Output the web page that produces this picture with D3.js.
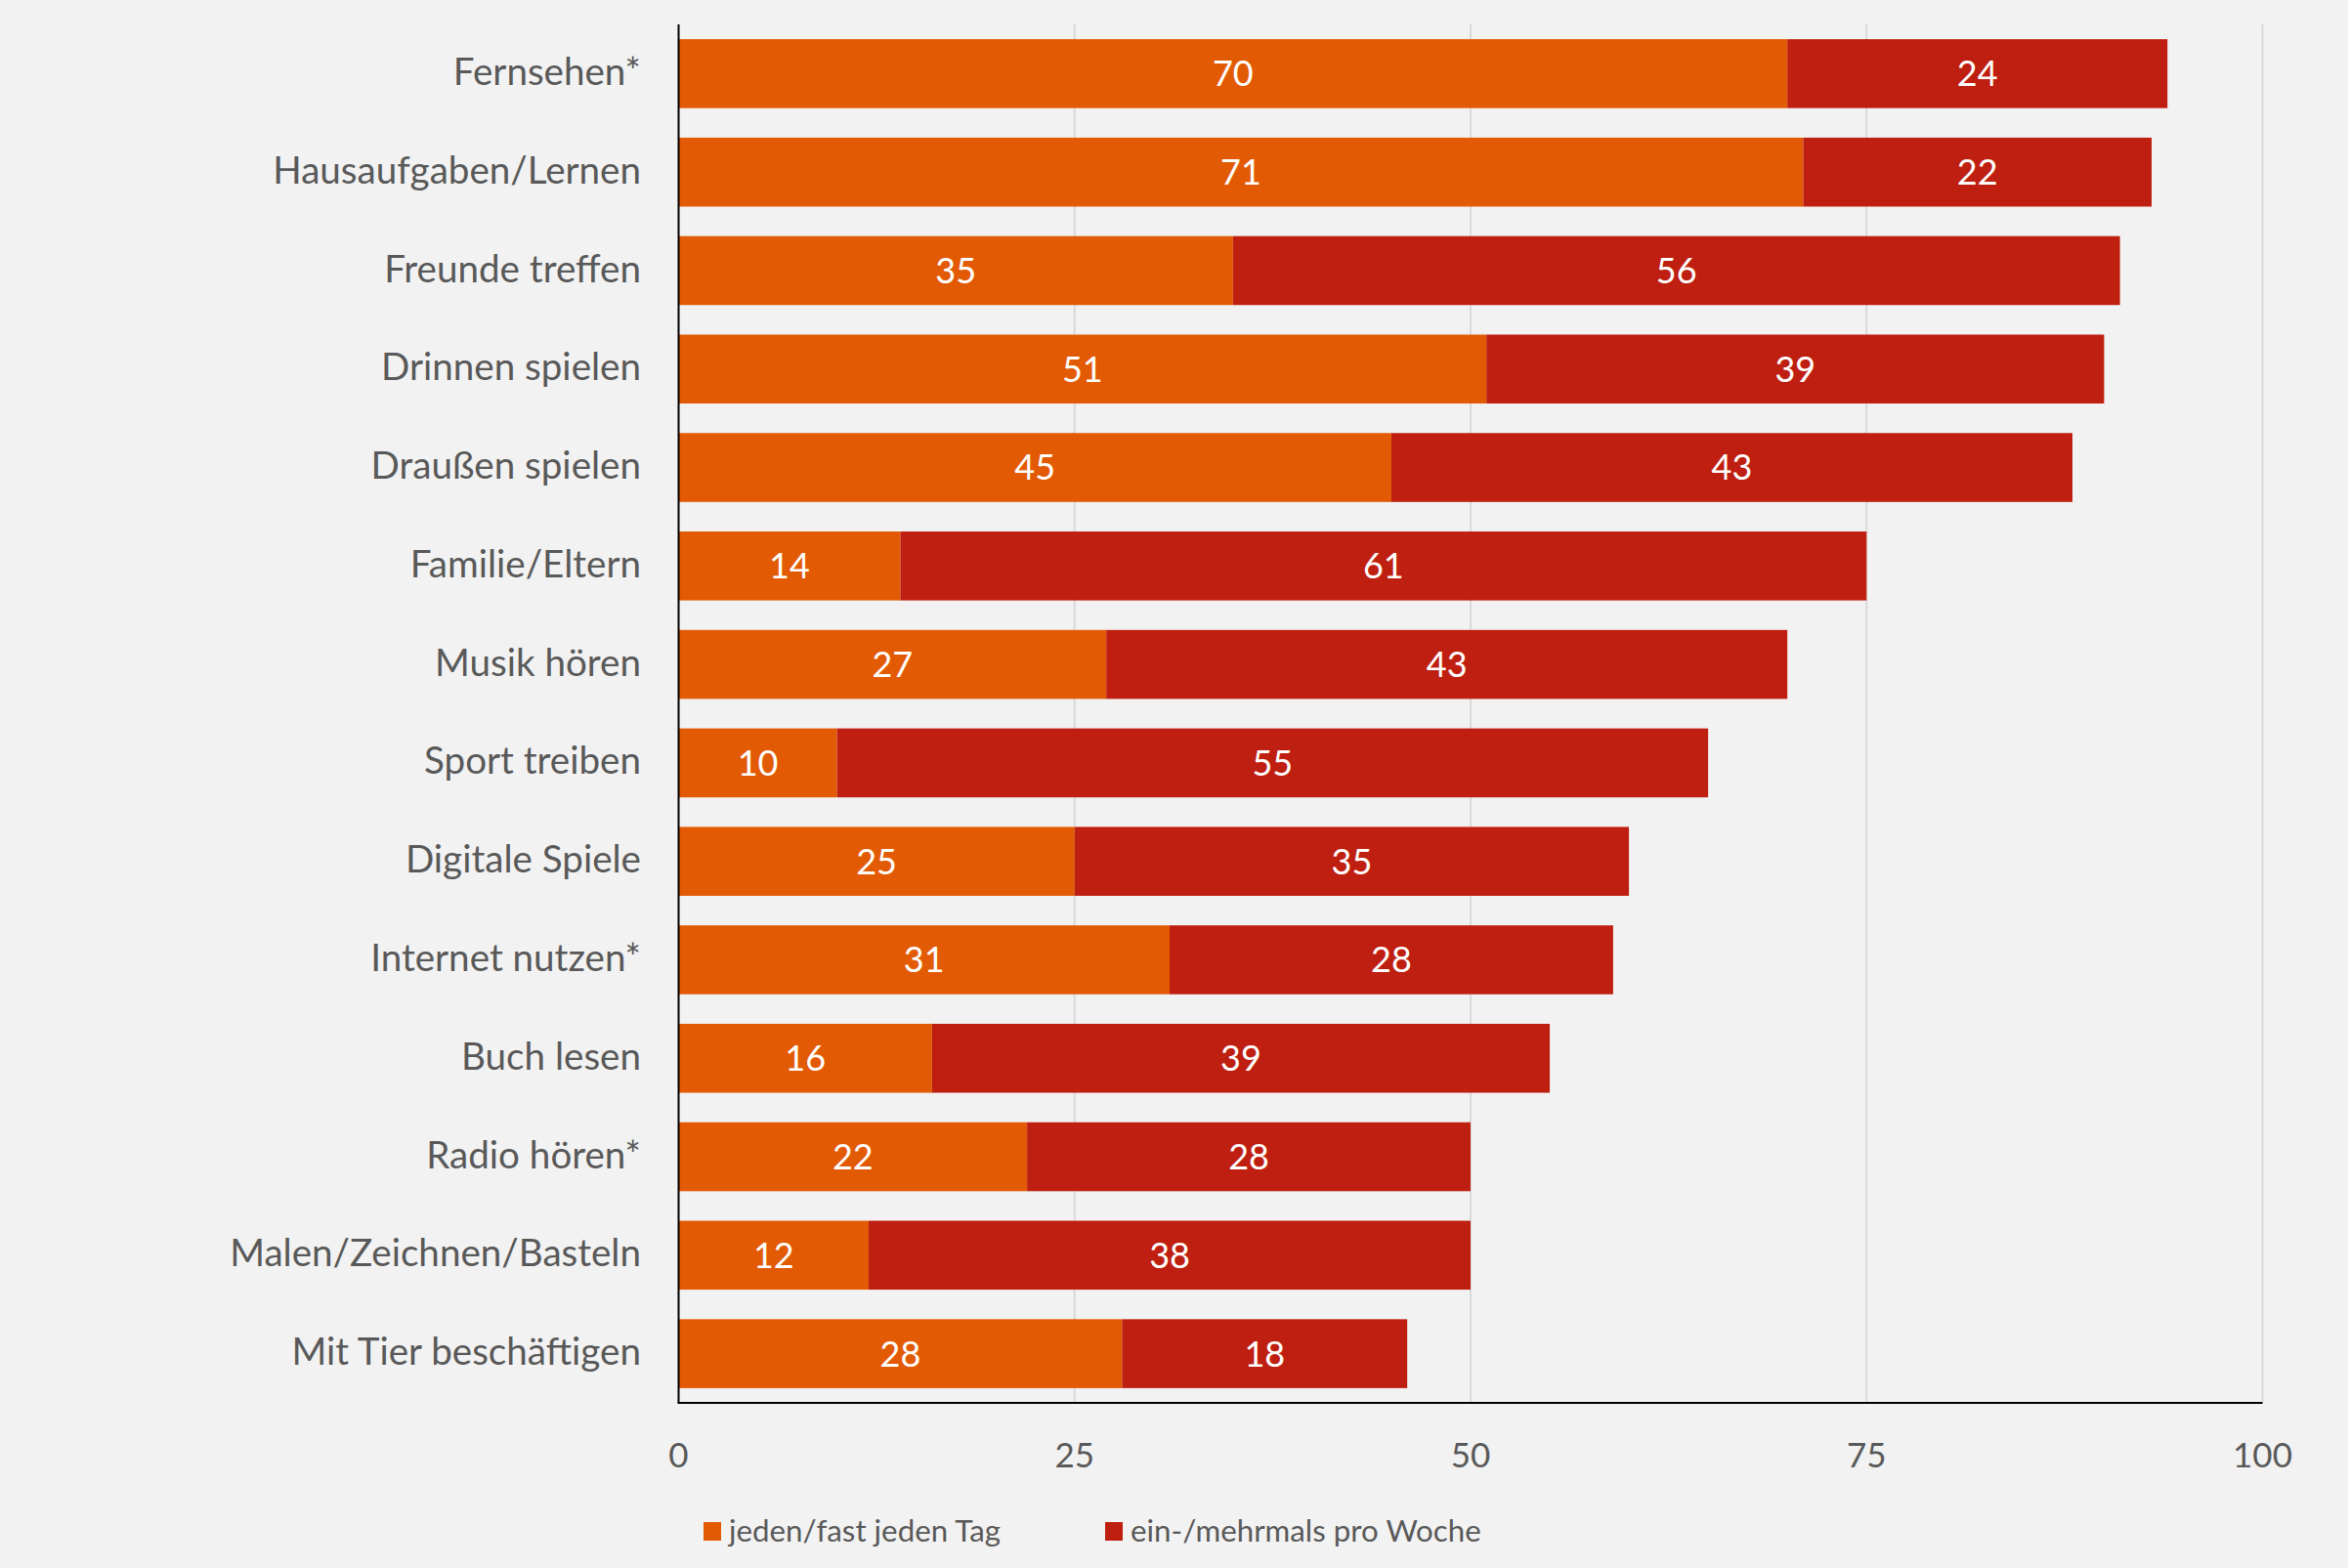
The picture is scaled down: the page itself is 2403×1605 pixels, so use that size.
<!DOCTYPE html>
<html><head><meta charset="utf-8">
<script src="https://cdn.jsdelivr.net/npm/d3@7"></script>
<style>html,body{margin:0;padding:0;background:#f2f2f2;}svg{display:block;}</style>
</head><body>
<svg id="c" width="2403" height="1605"></svg>
<script>
const categories = ["Fernsehen*","Hausaufgaben/Lernen","Freunde treffen","Drinnen spielen","Draußen spielen","Familie/Eltern","Musik hören","Sport treiben","Digitale Spiele","Internet nutzen*","Buch lesen","Radio hören*","Malen/Zeichnen/Basteln","Mit Tier beschäftigen"];
const daily = [70,71,35,51,45,14,27,10,25,31,16,22,12,28];
const weekly = [24,22,56,39,43,61,43,55,35,28,39,28,38,18];
const seriesNames = ["jeden/fast jeden Tag","ein-/mehrmals pro Woche"];
const seriesColors = ["#e35a04","#bf1f10"];
const xTicks = [0,25,50,75,100];

const svg = d3.select("#c");
const FONT = "Lato, 'Open Sans', sans-serif";
const x = d3.scaleLinear().domain([0,100]).range([694.5,2315.5]);
const y = d3.scaleBand().domain(categories).range([25,1436]).paddingInner(0.3).paddingOuter(0.15);

// gridlines
svg.append("g").selectAll("line").data(xTicks.filter(t=>t>0)).join("line")
  .attr("x1",d=>x(d)).attr("x2",d=>x(d)).attr("y1",25).attr("y2",1436)
  .attr("stroke","#d9d9d9").attr("stroke-width",2);

const rows = categories.map((c,i)=>({c, vals:[daily[i],weekly[i]]}));
const g = svg.append("g");
rows.forEach(r=>{
  let acc=0;
  r.vals.forEach((v,k)=>{
    g.append("rect").attr("x",x(acc)).attr("y",y(r.c)).attr("width",x(acc+v)-x(acc)).attr("height",y.bandwidth()).attr("fill",seriesColors[k]);
    g.append("text").attr("x",(x(acc)+x(acc+v))/2).attr("y",y(r.c)+y.bandwidth()/2).attr("dy","0.36em")
      .attr("text-anchor","middle").attr("fill","#fff").attr("font-family",FONT).attr("font-size",36).text(v);
    acc+=v;
  });
});

// axes lines
svg.append("line").attr("x1",x(0)).attr("x2",x(0)).attr("y1",25).attr("y2",1436).attr("stroke","#000").attr("stroke-width",2);
svg.append("line").attr("x1",x(0)-1).attr("x2",x(100)).attr("y1",1436).attr("y2",1436).attr("stroke","#000").attr("stroke-width",2);

// category labels
svg.append("g").selectAll("text").data(categories).join("text")
  .attr("x",656).attr("y",d=>y(d)+y.bandwidth()/2).attr("dy","0.3em").attr("text-anchor","end")
  .attr("fill","#595959").attr("font-family",FONT).attr("font-size",38.6).text(d=>d);

// tick labels
svg.append("g").selectAll("text").data(xTicks).join("text")
  .attr("x",d=>x(d)).attr("y",1502).attr("text-anchor","middle")
  .attr("fill","#595959").attr("font-family",FONT).attr("font-size",35).text(d=>d);

// legend
const legX = [720,1131];
seriesNames.forEach((s,k)=>{
  svg.append("rect").attr("x",legX[k]).attr("y",1558).attr("width",18).attr("height",19).attr("fill",seriesColors[k]);
  svg.append("text").attr("x",legX[k]+26).attr("y",1578).attr("fill","#595959").attr("font-family",FONT).attr("font-size",31.3).text(s);
});
</script>
</body></html>
